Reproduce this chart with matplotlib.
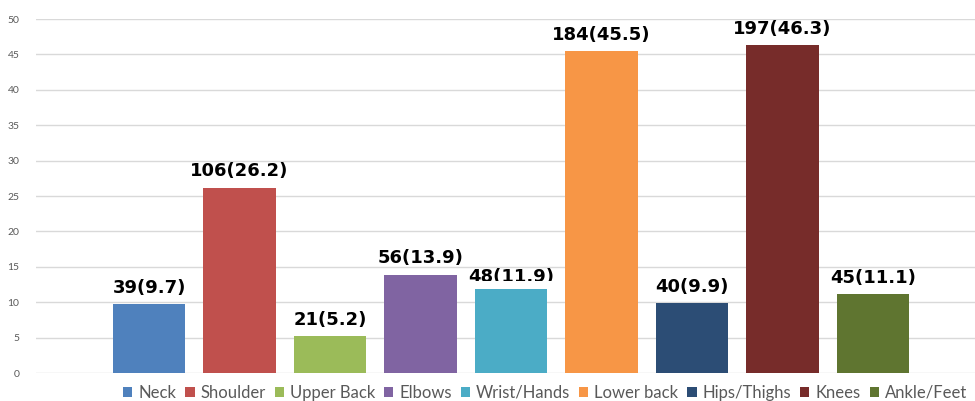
import matplotlib.pyplot as plt
from matplotlib.patches import Patch
from matplotlib.transforms import Bbox, TransformedBbox

# body regions, counts and percentages
regions = ["Neck", "Shoulder", "Upper Back", "Elbows", "Wrist/Hands",
           "Lower back", "Hips/Thighs", "Knees", "Ankle/Feet"]
counts = [39, 106, 21, 56, 48, 184, 40, 197, 45]
percents = [9.7, 26.2, 5.2, 13.9, 11.9, 45.5, 9.9, 46.3, 11.1]
colors = ["#4F81BD", "#C0504D", "#9BBB59", "#8064A2", "#4BACC6",
          "#F79646", "#2C4D75", "#772C2A", "#5F7530"]

plt.rcParams['font.family'] = ['Lato', 'DejaVu Sans']

fig = plt.figure(figsize=(9.75, 4.01), dpi=100)
ax = fig.add_axes([0.037, 0.0698, 0.963, 0.8828])

x = list(range(len(regions)))
ax.bar(x, percents, width=0.8, color=colors, zorder=3)

# value labels above the bars
for i, (c, p) in enumerate(zip(counts, percents)):
    crowded = regions[i] == "Wrist/Hands"
    off = 0.95 if crowded else 1.6
    t = ax.text(i, p + off, f"{c}({p})", ha="center", va="baseline",
                fontsize=13, fontweight="bold", color="black",
                family="DejaVu Sans", zorder=2)
    if crowded:
        # the label sits too close to the bar, its lower part is cut off
        box = Bbox([[i - 1, p + 1.1], [i + 1, p + 12]])
        t.set_clip_box(TransformedBbox(box, ax.transData))
        t.set_clip_on(True)

ax.set_ylim(0, 50)
ax.set_xlim(-1.25, 9.13)
ax.set_yticks(range(0, 51, 5))
ax.set_xticks([])
ax.tick_params(axis="y", length=0, labelsize=7.5, labelcolor="#595959", pad=12)
ax.grid(axis="y", color="#d9d9d9", linewidth=1, zorder=0)
for s in ax.spines.values():
    s.set_visible(False)

handles = [Patch(facecolor=c, label=r) for c, r in zip(colors, regions)]
fig.legend(handles=handles, loc="center", bbox_to_anchor=(0.559, 0.02), ncol=9,
           frameon=False, fontsize=12, labelcolor="#595959",
           handlelength=0.55, handleheight=0.55, handletextpad=0.35,
           columnspacing=0.55, borderpad=0)

fig.savefig("out.png", dpi=100)
